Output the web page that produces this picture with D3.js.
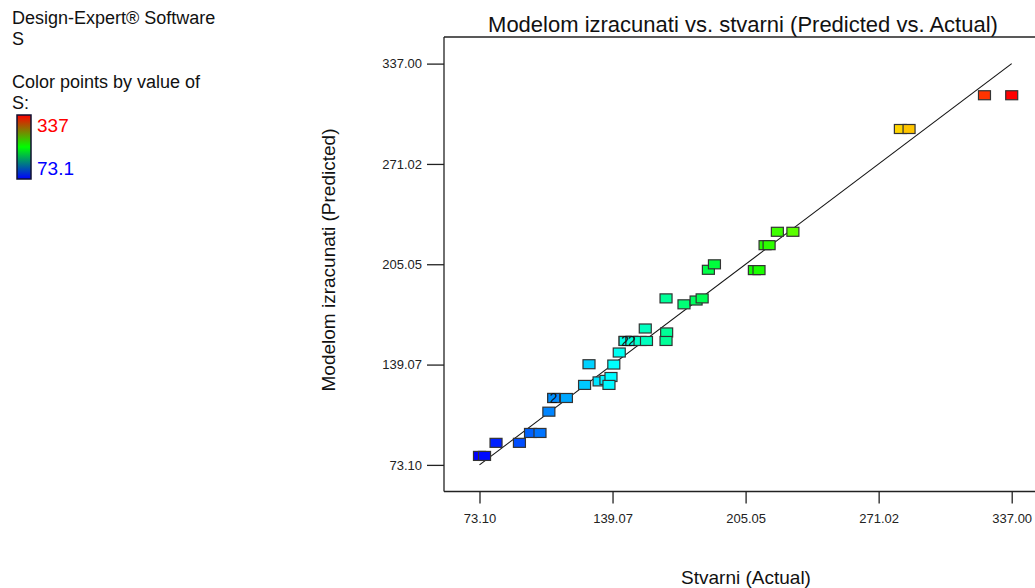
<!DOCTYPE html>
<html>
<head>
<meta charset="utf-8">
<script src="https://cdn.jsdelivr.net/npm/d3@7"></script>
<style>
  html, body { margin: 0; padding: 0; background: #fff; }
  svg { display: block; font-family: "Liberation Sans", Arial, sans-serif; }
</style>
</head>
<body>
<svg id="chart" width="1035" height="588"></svg>
<script>
// ---- data ----
const actual = [73.1, 75.6, 81.3, 92.9, 98.4, 103.1, 107.5, 109.9, 109.9, 116.2,
  125.2, 127.4, 132.4, 135.8, 138.3, 137.3, 139.7, 142.4, 145.3, 145.3, 148.7, 148.7,
  152.7, 155.9, 155.3, 165.9, 165.6, 165.6, 174.5, 180.5, 183.5, 186.6, 189.6,
  209.4, 211.7, 214.7, 216.7, 220.8, 228.5, 281.8, 286.1, 323.5, 337.0];
const predicted = [79.0, 79.0, 87.6, 87.6, 94.1, 94.1, 108.1, 117.1, 117.1, 117.1,
  125.7, 139.3, 128.0, 129.0, 130.9, 125.7, 139.1, 147.0, 154.6, 154.6, 154.6, 154.6,
  154.6, 154.6, 162.8, 160.2, 154.6, 182.6, 178.7, 181.2, 182.6, 201.4, 205.0,
  201.2, 201.2, 217.6, 217.6, 226.4, 226.4, 294.0, 294.0, 316.2, 316.2];
const tickValues = [73.10, 139.07, 205.05, 271.02, 337.00];
const colorRange = [73.1, 337];
const titleText = "Modelom izracunati vs. stvarni (Predicted vs. Actual)";
const xLabel = "Stvarni (Actual)";
const yLabel = "Modelom izracunati (Predicted)";

// ---- layout ----
const svg = d3.select("#chart");
const frame = { left: 444, top: 37, bottom: 491.5, right: 1047 };

const x = d3.scaleLinear().domain([55.5, 354.5]).range([frame.left, frame.right]);
const y = d3.scaleLinear().domain([55.6, 354.5]).range([frame.bottom, frame.top]);

const hue = d3.scaleLinear().domain(colorRange).range([240, 0]);
const color = v => d3.hsl(hue(v), 1, 0.5).toString();

// header text
const hdr = svg.append("g").attr("font-size", 18).attr("fill", "#111");
hdr.append("text").attr("x", 12).attr("y", 24).text("Design-Expert® Software");
hdr.append("text").attr("x", 12).attr("y", 45).text("S");
hdr.append("text").attr("x", 12).attr("y", 88).text("Color points by value of");
hdr.append("text").attr("x", 12).attr("y", 109).text("S:");

// legend gradient
const defs = svg.append("defs");
const grad = defs.append("linearGradient").attr("id", "lg")
  .attr("x1", 0).attr("y1", 0).attr("x2", 0).attr("y2", 1);
grad.append("stop").attr("offset", "0%").attr("stop-color", "#ff0000");
grad.append("stop").attr("offset", "50%").attr("stop-color", "#00ff00");
grad.append("stop").attr("offset", "100%").attr("stop-color", "#0000ff");
svg.append("rect").attr("x", 17).attr("y", 115).attr("width", 14).attr("height", 64)
  .attr("fill", "url(#lg)").attr("stroke", "#101030").attr("stroke-width", 1.5);
svg.append("text").attr("x", 37).attr("y", 132).attr("font-size", 19)
  .attr("fill", "#ff0000").text(String(colorRange[1]));
svg.append("text").attr("x", 37).attr("y", 175).attr("font-size", 19)
  .attr("fill", "#0000ff").text(String(colorRange[0]));

// title
svg.append("text").attr("x", 743).attr("y", 32).attr("text-anchor", "middle")
  .attr("font-size", 22).attr("fill", "#111").text(titleText);

// frame (left, top, bottom lines)
const fg = svg.append("g").attr("stroke", "#222").attr("stroke-width", 1.3).attr("fill", "none");
fg.append("line").attr("x1", frame.left).attr("x2", frame.left).attr("y1", frame.top).attr("y2", frame.bottom);
fg.append("line").attr("x1", frame.left).attr("x2", frame.right).attr("y1", frame.top).attr("y2", frame.top);
fg.append("line").attr("x1", frame.left).attr("x2", frame.right).attr("y1", frame.bottom).attr("y2", frame.bottom);

// axes
const xAxis = d3.axisBottom(x).tickValues(tickValues).tickFormat(d3.format(".2f"))
  .tickSize(12).tickPadding(10);
const gx = svg.append("g").attr("transform", `translate(0,${frame.bottom})`).call(xAxis);
gx.select(".domain").remove();
gx.selectAll("line").attr("stroke", "#222").attr("stroke-width", 1.3);
gx.selectAll("text").attr("font-size", 13).attr("fill", "#222")
  .attr("font-family", "Liberation Sans, Arial, sans-serif");

const yAxis = d3.axisLeft(y).tickValues(tickValues).tickFormat(d3.format(".2f"))
  .tickSize(17).tickPadding(5);
const gy = svg.append("g").attr("transform", `translate(${frame.left},0)`).call(yAxis);
gy.select(".domain").remove();
gy.selectAll("line").attr("stroke", "#222").attr("stroke-width", 1.3);
gy.selectAll("text").attr("font-size", 13).attr("fill", "#222")
  .attr("font-family", "Liberation Sans, Arial, sans-serif");

// axis titles
svg.append("text").attr("x", 746).attr("y", 584).attr("text-anchor", "middle")
  .attr("font-size", 19).attr("fill", "#111").text(xLabel);
svg.append("text").attr("transform", `translate(335,260) rotate(-90)`)
  .attr("text-anchor", "middle").attr("font-size", 19).attr("fill", "#111").text(yLabel);

// 1:1 line
svg.append("line")
  .attr("x1", x(colorRange[0])).attr("y1", y(colorRange[0]))
  .attr("x2", x(colorRange[1])).attr("y2", y(colorRange[1]))
  .attr("stroke", "#111").attr("stroke-width", 1.1);

// points
const pts = actual.map((a, i) => ({ a, p: predicted[i] }));
const bw = 12, bh = 9;
svg.append("g").selectAll("rect").data(pts).join("rect")
  .attr("x", d => x(d.a) - bw / 2).attr("y", d => y(d.p) - bh / 2)
  .attr("width", bw).attr("height", bh)
  .attr("fill", d => color(d.a))
  .attr("stroke", "#333").attr("stroke-width", 1.2);

// replicate counts
const counts = d3.rollups(pts, v => v.length, d => d.a + "|" + d.p)
  .filter(([, n]) => n > 1)
  .map(([k, n]) => { const [a, p] = k.split("|").map(Number); return { a, p, n }; });
svg.append("g").selectAll("text").data(counts).join("text")
  .attr("x", d => x(d.a)).attr("y", d => y(d.p) + 5)
  .attr("text-anchor", "middle").attr("font-size", 14).attr("fill", "#111")
  .text(d => d.n);
</script>
</body>
</html>
